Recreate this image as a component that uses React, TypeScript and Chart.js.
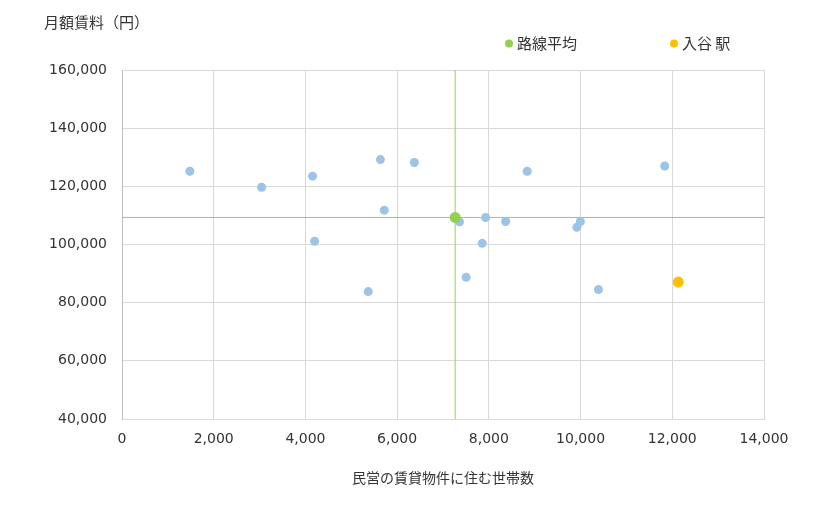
import React, { useEffect, useRef } from 'react';
import { Chart, registerables } from 'chart.js';

Chart.register(...registerables);

// Stations on the line: households in private rentals vs. monthly rent
const stationHouseholds = [1480, 3045, 4155, 4200, 5370, 5635, 5720, 6375, 7360, 7505, 7855, 7930, 8365, 8835, 9920, 9995, 10390, 11835];
const stationRent = [125200, 119700, 123500, 101100, 83800, 129200, 111800, 128200, 107800, 88700, 100400, 109300, 107900, 125200, 105900, 107900, 84500, 127000];

// Line average and the highlighted station
const averageHouseholds = 7265;
const averageRent = 109300;
const targetHouseholds = 12130;
const targetRent = 87100;

const legendLabels = ['路線平均', '入谷 駅'];
const xAxisTitle = '民営の賃貸物件に住む世帯数';
const yAxisTitle = '月額賃料（円）';

const xMin = 0;
const xMax = 14000;
const xStep = 2000;
const yMin = 40000;
const yMax = 160000;
const yStep = 20000;

const BLUE = '#9DC3E6';
const GREEN = '#92D050';
const ORANGE = '#FFC000';
const TEXT = '#333333';
const JP_FONT = '"Noto Sans CJK JP", "Noto Sans", sans-serif';
const NUM_FONT = '"DejaVu Sans", Verdana, sans-serif';

// Draws the y-axis caption and the legend at the top of the canvas
const annotations = {
  id: 'annotations',
  afterDraw(chart: Chart) {
    const ctx = chart.ctx;
    ctx.save();
    ctx.fillStyle = TEXT;
    ctx.font = `15px ${JP_FONT}`;
    ctx.textBaseline = 'middle';
    ctx.textAlign = 'left';
    ctx.fillText(yAxisTitle, 44, 22);

    const colors = [GREEN, ORANGE];
    const starts = [509, 674];
    legendLabels.forEach((label, i) => {
      ctx.beginPath();
      ctx.fillStyle = colors[i];
      ctx.arc(starts[i], 43.5, 4, 0, Math.PI * 2);
      ctx.fill();
      ctx.fillStyle = TEXT;
      ctx.font = `15px ${JP_FONT}`;
      ctx.fillText(label, starts[i] + 8, 43.5);
    });
    ctx.restore();
  },
};

const App = () => {
  const canvasRef = useRef<HTMLCanvasElement>(null);
  const chartRef = useRef<Chart | null>(null);

  useEffect(() => {
    if (!canvasRef.current) return;
    const ctx = canvasRef.current.getContext('2d');
    if (!ctx) return;

    if (chartRef.current) {
      chartRef.current.destroy();
      chartRef.current = null;
    }

    chartRef.current = new Chart(ctx, {
      type: 'scatter',
      data: {
        datasets: [
          {
            label: legendLabels[1],
            data: [{ x: targetHouseholds, y: targetRent }],
            backgroundColor: ORANGE,
            borderWidth: 0,
            pointRadius: 5.5,
          },
          {
            label: legendLabels[0],
            data: [{ x: averageHouseholds, y: averageRent }],
            backgroundColor: GREEN,
            borderWidth: 0,
            pointRadius: 5.5,
          },
          {
            label: 'stations',
            data: stationHouseholds.map((x, i) => ({ x, y: stationRent[i] })),
            backgroundColor: BLUE,
            borderWidth: 0,
            pointRadius: 4.5,
          },
          {
            label: 'avg-x',
            data: [{ x: averageHouseholds, y: yMin }, { x: averageHouseholds, y: yMax }],
            showLine: true,
            borderColor: GREEN,
            borderWidth: 1,
            pointRadius: 0,
          },
          {
            label: 'avg-y',
            data: [{ x: xMin, y: averageRent }, { x: xMax, y: averageRent }],
            showLine: true,
            borderColor: GREEN,
            borderWidth: 1,
            pointRadius: 0,
          },
        ],
      },
      options: {
        animation: false,
        responsive: true,
        maintainAspectRatio: false,
        events: [],
        layout: { padding: { left: 0, top: 70, right: 56, bottom: 0 } },
        plugins: {
          legend: { display: false },
          tooltip: { enabled: false },
        },
        scales: {
          x: {
            type: 'linear',
            min: xMin,
            max: xMax,
            afterFit: (scale) => { scale.height = 91; },
            grid: { color: '#d9d9d9', drawTicks: false },
            border: { color: '#d9d9d9' },
            ticks: {
              stepSize: xStep,
              padding: 12,
              color: TEXT,
              font: { family: NUM_FONT, size: 14 },
              callback: (v) => Number(v).toLocaleString('en-US'),
            },
            title: {
              display: true,
              text: xAxisTitle,
              color: TEXT,
              font: { family: JP_FONT, size: 14 },
              padding: { top: 0, bottom: 24 },
            },
          },
          y: {
            type: 'linear',
            min: yMin,
            max: yMax,
            afterFit: (scale) => { scale.width = 122; },
            grid: { color: '#d9d9d9', drawTicks: false },
            border: { color: '#bfbfbf' },
            ticks: {
              stepSize: yStep,
              padding: 15,
              color: TEXT,
              font: { family: NUM_FONT, size: 14 },
              callback: (v) => Number(v).toLocaleString('en-US'),
            },
          },
        },
      },
      plugins: [annotations],
    });

    return () => {
      if (chartRef.current) {
        chartRef.current.destroy();
        chartRef.current = null;
      }
    };
  }, []);

  return (
    <div style={{ position: 'absolute', left: 0, top: 0, width: 820, height: 510, background: '#fff' }}>
      <canvas ref={canvasRef} />
    </div>
  );
};

export default App;
